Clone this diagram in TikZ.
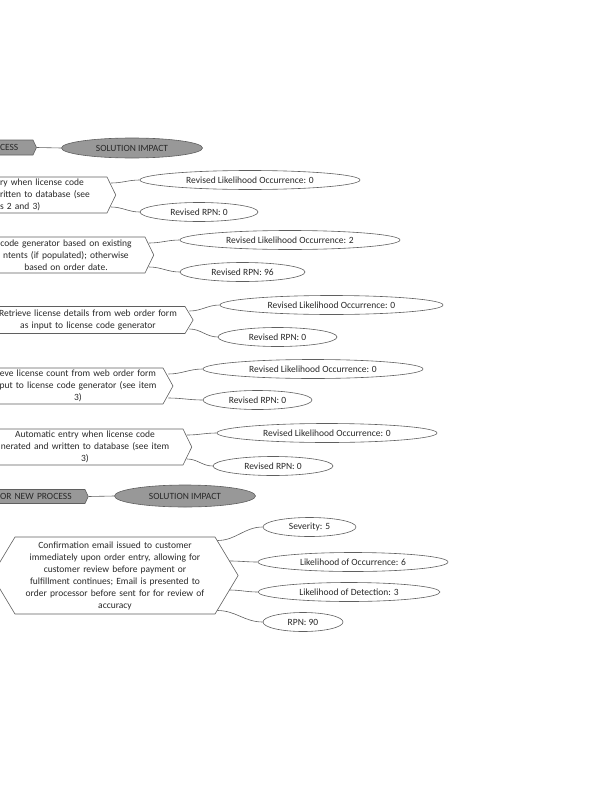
\documentclass[tikz,border=0pt]{standalone}
\usepackage{fontspec}
\setmainfont{Carlito}
\usepackage{xcolor}
\usepackage{tikz}
\usetikzlibrary{shapes.geometric, shapes.symbols}

\definecolor{hdrgray}{RGB}{152,152,152}
\definecolor{edgegray}{RGB}{95,95,95}
\definecolor{txtgray}{RGB}{40,40,40}

\begin{document}
\begin{tikzpicture}[x=1pt, y=-1pt,
    every node/.style={font=\fontsize{9.5}{12}\selectfont, text=txtgray},
    cause/.style={signal, signal to=east, draw=edgegray, fill=white, line width=0.6pt,
        inner xsep=4pt, inner ysep=0pt, signal pointer angle=128, align=center},
    header/.style={cause, fill=hdrgray, signal pointer angle=130, align=left},
    impact/.style={ellipse, draw=edgegray, fill=hdrgray, line width=0.6pt, inner sep=0pt,
        minimum width=141pt, minimum height=20pt},
    rating/.style={ellipse, draw=edgegray, fill=white, line width=0.6pt, inner sep=0pt,
        minimum height=19pt},
    link/.style={draw=edgegray, line width=0.6pt}]
    \useasboundingbox (0,0) rectangle (606,800);
    \clip (0,0) rectangle (606,800);

    % Intestazione 1
    \node[header, text width=29pt, minimum height=15pt] (hdrA) at (14.5,147.5) {CESS};
    \node[impact] (impA) at (132,148) {SOLUTION IMPACT};
    \draw[link] (hdrA.east) -- (impA.west);

    % Voce 1
    \node[cause, text width=103pt, align=left, minimum height=36pt] (effA) at (51.5,195)
        {ry when license code\\ritten to database (see\\s 2 and 3)};
    \node[rating, minimum width=220pt] (occA) at (250,180) {Revised Likelihood Occurrence: 0};
    \node[rating, minimum width=118pt] (rpnA) at (199,212) {Revised RPN: 0};
    \draw[link] ([shift={(-5pt,12pt)}]effA.east) to[out=0, in=180] (occA.west);
    \draw[link] ([shift={(-5pt,-12pt)}]effA.east) to[out=0, in=180] (rpnA.west);

    % Voce 2
    \node[cause, text width=150pt, minimum height=36pt] (effB) at (66,255)
        {code generator based on existing\\ntents (if populated); otherwise\\based on order date.};
    \node[rating, minimum width=220pt] (occB) at (290,240) {Revised Likelihood Occurrence: 2};
    \node[rating, minimum width=125pt] (rpnB) at (242.5,272) {Revised RPN: 96};
    \draw[link] ([shift={(-5pt,12pt)}]effB.east) to[out=0, in=180] (occB.west);
    \draw[link] ([shift={(-5pt,-12pt)}]effB.east) to[out=0, in=180] (rpnB.west);

    % Voce 3
    \node[cause, text width=186pt, minimum height=27pt, signal pointer angle=118] (effC) at (88,320)
        {Retrieve license details from web order form\\as input to license code generator};
    \node[rating, minimum width=223pt] (occC) at (331.5,305) {Revised Likelihood Occurrence: 0};
    \node[rating, minimum width=119pt] (rpnC) at (277.5,337) {Revised RPN: 0};
    \draw[link] ([shift={(-4pt,9pt)}]effC.east) to[out=0, in=180] (occC.west);
    \draw[link] ([shift={(-4pt,-9pt)}]effC.east) to[out=0, in=180] (rpnC.west);

    % Voce 4
    \node[cause, text width=162pt, minimum height=36pt, signal pointer angle=122] (effD) at (78,386)
        {eve license count from web order form\\put to license code generator (see item\\3)};
    \node[rating, minimum width=220pt] (occD) at (313,369) {Revised Likelihood Occurrence: 0};
    \node[rating, minimum width=109pt] (rpnD) at (257.5,400) {Revised RPN: 0};
    \draw[link] ([shift={(-5pt,12pt)}]effD.east) to[out=0, in=180] (occD.west);
    \draw[link] ([shift={(-5pt,-12pt)}]effD.east) to[out=0, in=180] (rpnD.west);

    % Voce 5
    \node[cause, text width=188pt, minimum height=36pt] (effE) at (85,447)
        {Automatic entry when license code\\nerated and written to database (see item\\3)};
    \node[rating, minimum width=220pt] (occE) at (327,433) {Revised Likelihood Occurrence: 0};
    \node[rating, minimum width=120pt] (rpnE) at (273,466) {Revised RPN: 0};
    \draw[link] ([shift={(-5pt,12pt)}]effE.east) to[out=0, in=180] (occE.west);
    \draw[link] ([shift={(-5pt,-12pt)}]effE.east) to[out=0, in=180] (rpnE.west);

    % Intestazione 2
    \node[header, text width=81pt, minimum height=14pt] (hdrB) at (40.5,496.5) {OR NEW PROCESS};
    \node[impact, minimum height=22pt] (impB) at (185,496) {SOLUTION IMPACT};
    \draw[link] (hdrB.east) -- (impB.west);

    % Nuovo processo
    \node[anchor=west, inner sep=0pt] (prevF) at (0.5,568) {l};
    \node[cause, signal to=east and west, text width=192pt, minimum height=77pt,
        signal pointer angle=118] (effF) at (115,575.5)
        {Confirmation email issued to customer\\immediately upon order entry, allowing for\\
         customer review before payment or\\fulfillment continues; Email is presented to\\
         order processor before sent for for review of\\accuracy};
    \node[rating, minimum width=93pt] (sevF) at (309.5,527) {Severity: 5};
    \node[rating, minimum width=190pt] (occF) at (353,562) {Likelihood of Occurrence: 6};
    \node[rating, minimum width=182pt] (detF) at (349,592) {Likelihood of Detection: 3};
    \node[rating, minimum width=80pt] (rpnF) at (303,622) {RPN: 90};
    \draw[link] ([shift={(-21pt,35pt)}]effF.east) to[out=0, in=180] (sevF.west);
    \draw[link] ([shift={(-9pt,14.5pt)}]effF.east) to[out=0, in=180] (occF.west);
    \draw[link] ([shift={(-9pt,-14.5pt)}]effF.east) to[out=0, in=180] (detF.west);
    \draw[link] ([shift={(-21pt,-35pt)}]effF.east) to[out=0, in=180] (rpnF.west);
\end{tikzpicture}
\end{document}
